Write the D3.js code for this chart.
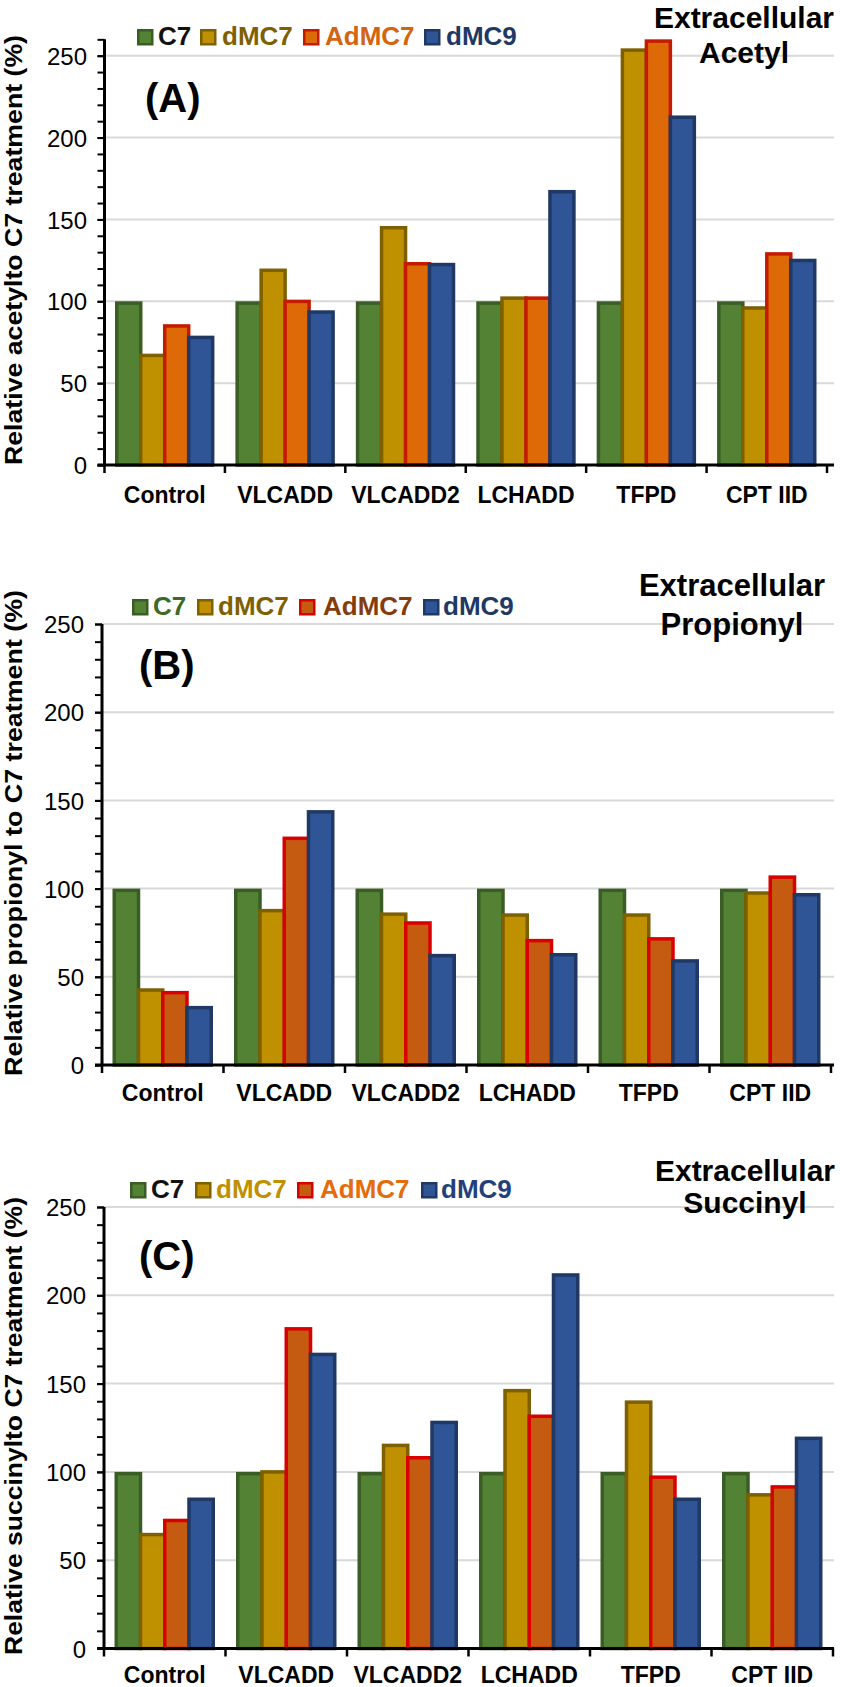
<!DOCTYPE html>
<html><head><meta charset="utf-8">
<script src="https://cdn.jsdelivr.net/npm/d3@7"></script>
<style>html,body{margin:0;padding:0;background:#fff;} svg{display:block;}</style>
</head><body>
<svg id="chart" width="843" height="1687"></svg>
<script>
// ---------- DATA ----------
const categories = ["Control", "VLCADD", "VLCADD2", "LCHADD", "TFPD", "CPT IID"];
const seriesNames = ["C7", "dMC7", "AdMC7", "dMC9"];
const majorTicks = [0, 50, 100, 150, 200, 250];

const acetylC7    = [100, 100, 100, 100, 100, 100];
const acetylDMC7  = [68, 120, 146, 103, 254.5, 97];
const acetylAdMC7 = [86, 101, 124, 103, 260, 130];
const acetylDMC9  = [79, 94.5, 123.5, 168, 213.5, 126];

const propionylC7    = [100, 100, 100, 100, 100, 100];
const propionylDMC7  = [43.5, 88.5, 86.5, 86, 86, 98.5];
const propionylAdMC7 = [42, 129.5, 81.5, 71.5, 72.5, 107.5];
const propionylDMC9  = [33.5, 144.5, 63, 63.5, 60, 97.5];

const succinylC7    = [100, 100, 100, 100, 100, 100];
const succinylDMC7  = [65.5, 101, 116, 147, 140.5, 88];
const succinylAdMC7 = [73.5, 182, 109, 132.5, 98, 92.5];
const succinylDMC9  = [85.5, 167.5, 129, 212.5, 85.5, 120];

// ---------- PANEL CONFIG (layout/style) ----------
const panels = [
  { label: "(A)", title: ["Extracellular", "Acetyl"], yTitle: "Relative acetylto C7 treatment (%)",
    values: [acetylC7, acetylDMC7, acetylAdMC7, acetylDMC9], yMax: 260,
    x0: 104.5, x1: 827, gridEnd: 834, yZero: 465, y250: 55.7,
    legendBottom: 45, legendSq: [137, 200, 303, 424], legendTx: [158, 222, 325, 446],
    legendColors: ["#111111", "#7f6000", "#d4640f", "#1f3864"],
    tickLabelX: 87, panelLabel: [145, 112], titleCx: 744, titleBase: [28, 63], titleSize: 30,
    yTitleCy: 250, yTitleLen: 430, xLabelBase: 503,
    fills: ["#548235", "#bf9000", "#dd6a06", "#2f5597"],
    strokes: ["#3a5d25", "#7f6000", "#c41a00", "#1f3864"] },
  { label: "(B)", title: ["Extracellular", "Propionyl"], yTitle: "Relative propionyl to C7 treatment (%)",
    values: [propionylC7, propionylDMC7, propionylAdMC7, propionylDMC9], yMax: 250,
    x0: 102, x1: 831, gridEnd: 834, yZero: 1065, y250: 624,
    legendBottom: 615, legendSq: [132, 197, 299, 423], legendTx: [153, 218, 323, 443],
    legendColors: ["#3d6b27", "#7f6000", "#843c0c", "#1f3864"],
    tickLabelX: 84, panelLabel: [139, 679], titleCx: 732, titleBase: [596, 635], titleSize: 31,
    yTitleCy: 833, yTitleLen: 486, xLabelBase: 1101,
    fills: ["#548235", "#bf9000", "#c55a11", "#2f5597"],
    strokes: ["#3a5d25", "#7f6000", "#d90000", "#1f3864"] },
  { label: "(C)", title: ["Extracellular", "Succinyl"], yTitle: "Relative succinylto C7 treatment (%)",
    values: [succinylC7, succinylDMC7, succinylAdMC7, succinylDMC9], yMax: 250,
    x0: 104, x1: 833, gridEnd: 834, yZero: 1648.5, y250: 1207,
    legendBottom: 1198, legendSq: [130, 195, 297, 421], legendTx: [151, 216, 320, 441],
    legendColors: ["#111111", "#bf9000", "#e46c0a", "#23407a"],
    tickLabelX: 86, panelLabel: [139, 1270], titleCx: 745, titleBase: [1181, 1213], titleSize: 30,
    yTitleCy: 1426, yTitleLen: 458, xLabelBase: 1683,
    fills: ["#548235", "#bf9000", "#c55a11", "#2f5597"],
    strokes: ["#3a5d25", "#7f6000", "#d90000", "#1f3864"] }
];

const FONT = "'Liberation Sans', Arial, Helvetica, sans-serif";
const svg = d3.select("#chart");
const SW = 3.5; // bar stroke width

panels.forEach(p => {
  const g = svg.append("g");
  const pxPerUnit = (p.yZero - p.y250) / 250;
  const y = d3.scaleLinear().domain([0, p.yMax]).range([p.yZero, p.yZero - p.yMax * pxPerUnit]);
  const x = d3.scaleBand().domain(categories).range([p.x0, p.x1]).paddingInner(0).paddingOuter(0);
  const bw = x.bandwidth();
  const pad = 10.5;
  const xs = d3.scaleBand().domain(seriesNames).range([pad + SW / 2, bw - pad - SW / 2]).padding(0);

  // gridlines
  g.append("g").selectAll("line").data(majorTicks.filter(t => t > 0)).join("line")
    .attr("x1", p.x0).attr("x2", p.gridEnd)
    .attr("y1", d => y(d)).attr("y2", d => y(d))
    .attr("stroke", "#d9d9d9").attr("stroke-width", 2);

  // bars
  const flat = [];
  categories.forEach((c, ci) => seriesNames.forEach((s, si) => flat.push({ c, s, si, v: p.values[si][ci] })));
  g.append("g").selectAll("rect").data(flat).join("rect")
    .attr("x", d => x(d.c) + xs(d.s))
    .attr("width", xs.bandwidth())
    .attr("y", d => y(d.v) + SW / 2)
    .attr("height", d => Math.max(0, y(0) - y(d.v) - SW / 2))
    .attr("fill", d => p.fills[d.si])
    .attr("stroke", d => p.strokes[d.si])
    .attr("stroke-width", SW);

  // y axis: minor ticks
  const minor = d3.range(0, p.yMax + 0.1, 10);
  const axMinor = g.append("g").attr("transform", `translate(${p.x0},0)`)
    .call(d3.axisLeft(y).tickValues(minor).tickSize(7).tickFormat(""));
  axMinor.select(".domain").remove();
  axMinor.selectAll("line").attr("stroke", "#000").attr("stroke-width", 2);

  const axMajor = g.append("g").attr("transform", `translate(${p.x0},0)`)
    .call(d3.axisLeft(y).tickValues(majorTicks).tickSize(7).tickPadding(p.x0 - p.tickLabelX - 7));
  axMajor.select(".domain").attr("stroke", "#000").attr("stroke-width", 3).attr("d", `M0,${y(p.yMax)}V${y(0) + 1.5}`);
  axMajor.selectAll("line").attr("stroke", "#000").attr("stroke-width", 2);
  axMajor.selectAll("text").attr("font-family", FONT).attr("font-size", 24)
    .attr("fill", "#000").attr("text-anchor", "end").attr("dy", "0.36em");

  // x axis line and boundary ticks
  g.append("line").attr("x1", p.x0 - 7).attr("x2", p.gridEnd)
    .attr("y1", y(0)).attr("y2", y(0)).attr("stroke", "#000").attr("stroke-width", 3);
  const bounds = categories.map(c => x(c)).concat([x.range()[1]]);
  g.append("g").selectAll("line").data(bounds).join("line")
    .attr("x1", d => d).attr("x2", d => d)
    .attr("y1", y(0)).attr("y2", y(0) + 8)
    .attr("stroke", "#000").attr("stroke-width", 2.5);

  // category labels
  g.append("g").selectAll("text").data(categories).join("text")
    .attr("x", d => x(d) + bw / 2).attr("y", p.xLabelBase)
    .attr("text-anchor", "middle").attr("font-family", FONT).attr("font-weight", "bold")
    .attr("font-size", 23).attr("fill", "#000").text(d => d);

  // y title
  g.append("text")
    .attr("transform", `translate(22,${p.yTitleCy}) rotate(-90)`)
    .attr("text-anchor", "middle").attr("font-family", FONT).attr("font-weight", "bold")
    .attr("font-size", 23).attr("fill", "#000")
    .attr("textLength", p.yTitleLen).attr("lengthAdjust", "spacingAndGlyphs")
    .text(p.yTitle);

  // legend
  const lg = g.append("g");
  seriesNames.forEach((s, i) => {
    lg.append("rect").attr("x", p.legendSq[i] + 1.25).attr("y", p.legendBottom - 16 + 1.25)
      .attr("width", 14).attr("height", 14)
      .attr("fill", p.fills[i]).attr("stroke", p.strokes[i]).attr("stroke-width", 2.5);
    lg.append("text").attr("x", p.legendTx[i]).attr("y", p.legendBottom)
      .attr("font-family", FONT).attr("font-weight", "bold").attr("font-size", 26)
      .attr("fill", p.legendColors[i]).text(s);
  });

  // panel letter
  g.append("text").attr("x", p.panelLabel[0]).attr("y", p.panelLabel[1])
    .attr("font-family", FONT).attr("font-weight", "bold").attr("font-size", 40)
    .attr("fill", "#000").text(p.label);

  // title
  p.title.forEach((t, i) => {
    g.append("text").attr("x", p.titleCx).attr("y", p.titleBase[i])
      .attr("text-anchor", "middle").attr("font-family", FONT).attr("font-weight", "bold")
      .attr("font-size", p.titleSize).attr("fill", "#000").text(t);
  });
});
</script>
</body></html>
